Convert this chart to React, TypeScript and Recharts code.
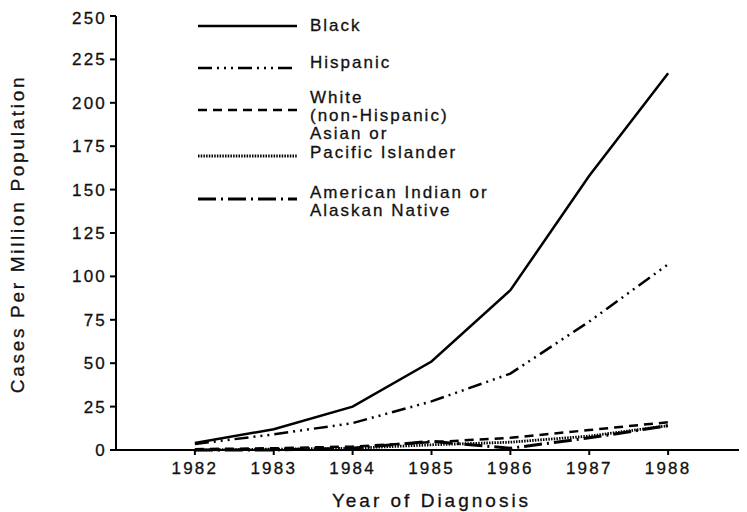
import { Legend, Line, LineChart, XAxis, YAxis } from "recharts";

const years = [1982, 1983, 1984, 1985, 1986, 1987, 1988];
const black = [4, 12, 25, 51, 92, 158, 217];
const hispanic = [3.5, 9, 15.5, 28, 44, 74, 107];
const white = [0.5, 1, 2, 4.5, 7, 11.5, 16];
const asian = [0, 0.5, 1, 3, 4.5, 8, 14];
const amIndian = [0, 0, 1, 5, 1, 7, 14];

const yTicks = [0, 25, 50, 75, 100, 125, 150, 175, 200, 225, 250];

const series = [
	{ key: "black", label: ["Black"], dash: undefined, width: 2.5 },
	{ key: "hispanic", label: ["Hispanic"], dash: "14 5 2 5 2 5 2 5", width: 2.5 },
	{ key: "white", label: ["White", "(non-Hispanic)"], dash: "9 6", width: 2.5 },
	{ key: "asian", label: ["Asian or", "Pacific Islander"], dash: "1.5 1.2", width: 2.8 },
	{ key: "amIndian", label: ["American Indian or", "Alaskan Native"], dash: "18 5 2 5", width: 3 },
];

const data = years.map((year, i) => ({
	year,
	black: black[i],
	hispanic: hispanic[i],
	white: white[i],
	asian: asian[i],
	amIndian: amIndian[i],
}));

const font = "'Liberation Sans', Arial, sans-serif";
const ink = "#111";

// legend rows: line y and text line centers (chart coords)
const legendRows = [
	{ lineY: 18, textY: [17] },
	{ lineY: 60, textY: [54] },
	{ lineY: 102, textY: [89, 107] },
	{ lineY: 148, textY: [125, 144] },
	{ lineY: 191, textY: [184, 202] },
];

const renderLegend = () => (
	<svg width={739} height={230} style={{ display: "block" }}>
		{series.map((s, i) => (
			<g key={s.key}>
				<line
					x1={190}
					x2={289}
					y1={legendRows[i].lineY}
					y2={legendRows[i].lineY}
					stroke="#000"
					strokeWidth={s.width}
					strokeDasharray={s.dash}
				/>
				{s.label.map((t, j) => (
					<text
						key={t}
						x={302}
						y={legendRows[i].textY[j]}
						dominantBaseline="central"
						fontFamily={font}
						fontSize={17}
						letterSpacing={2}
						fill={ink}
						stroke={ink}
						strokeWidth={0.3}
					>
						{t}
					</text>
				))}
			</g>
		))}
	</svg>
);

const tickStyle = { fill: ink, stroke: ink, strokeWidth: 0.3, fontSize: 17, fontFamily: font, letterSpacing: 2.2 };

const App = () => {
	return (
		<LineChart width={739} height={504} data={data} margin={{ top: 8, right: 0, left: 0, bottom: 0 }}>
			<XAxis
				dataKey="year"
				type="number"
				domain={[1981, 1989]}
				ticks={years}
				height={62}
				tickSize={5}
				tickMargin={7}
				stroke="#000"
				strokeWidth={2}
				tick={tickStyle}
				label={{
					value: "Year of Diagnosis",
					position: "insideBottom",
					offset: 5,
					style: { fill: ink, stroke: ink, strokeWidth: 0.3, fontSize: 19, fontFamily: font, letterSpacing: 3 },
				}}
			/>
			<YAxis
				domain={[0, 250]}
				ticks={yTicks}
				width={108}
				tickSize={6}
				tickMargin={3}
				stroke="#000"
				strokeWidth={2}
				tick={tickStyle}
				label={{
					content: () => (
						<text
							x={9}
							y={226}
							transform="rotate(-90, 9, 226)"
							textAnchor="middle"
							dominantBaseline="central"
							fontFamily={font}
							fontSize={19}
							letterSpacing={2.7}
							fill={ink}
							stroke={ink}
							strokeWidth={0.3}
						>
							Cases Per Million Population
						</text>
					),
				}}
			/>
			<Legend
				layout="horizontal"
				verticalAlign="middle"
				align="center"
				content={renderLegend}
				wrapperStyle={{ left: 0, top: 0, width: 739, height: 230 }}
			/>
			{series.map((s) => (
				<Line
					key={s.key}
					type="linear"
					dataKey={s.key}
					stroke="#000"
					strokeWidth={s.width}
					strokeDasharray={s.dash}
					dot={false}
					activeDot={false}
					isAnimationActive={false}
				/>
			))}
		</LineChart>
	);
};

export default App;
